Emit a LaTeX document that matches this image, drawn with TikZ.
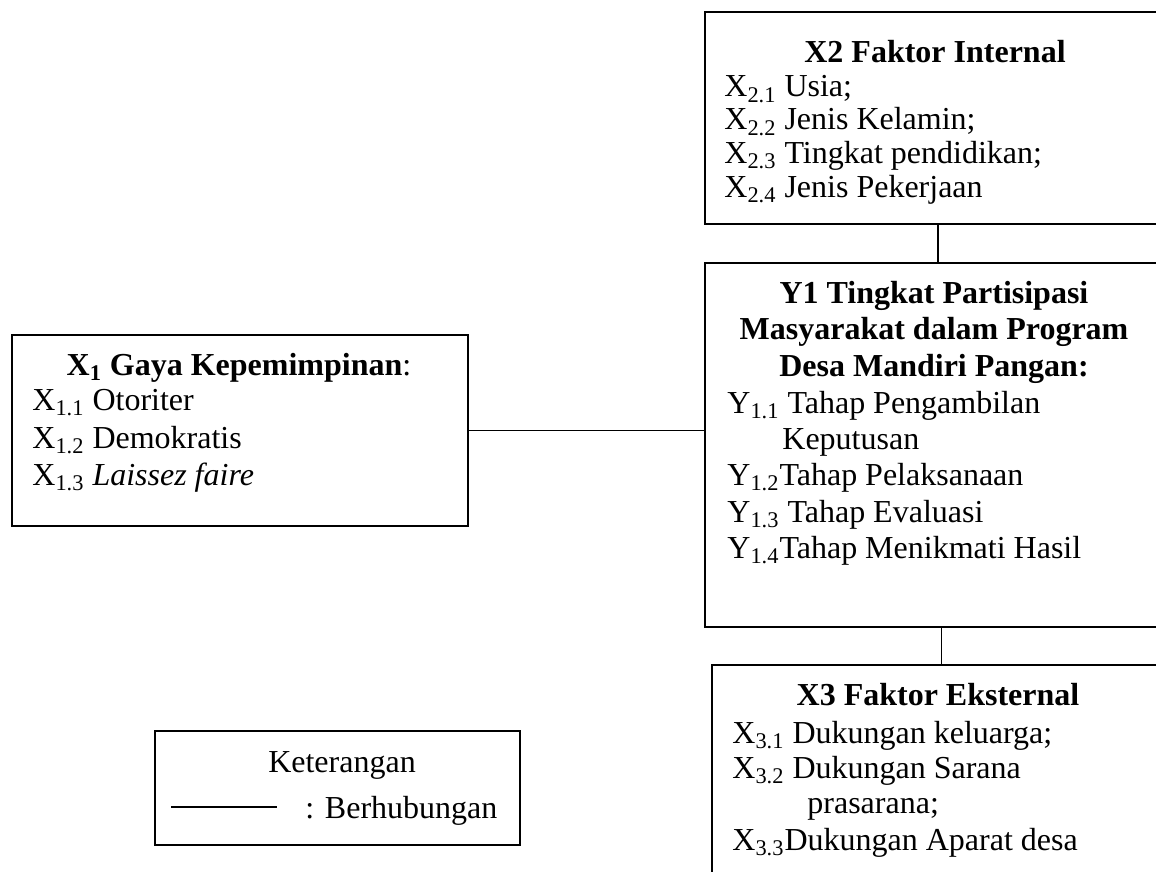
\documentclass[tikz,border=0pt]{standalone}
\usepackage{fontspec}
\setmainfont{Liberation Serif}
\usetikzlibrary{positioning,calc}
\newcommand\sbs[1]{\textsubscript{#1}}

\begin{document}
\begin{tikzpicture}[
 x=0.5pt,y=-0.5pt,
 box/.style={draw=black,line width=1pt,rectangle,inner sep=0pt,anchor=north west},
 ttl/.style={font=\fontsize{16}{17}\selectfont\bfseries,inner sep=0pt,anchor=base},
 itm/.style={font=\fontsize{16}{17}\selectfont,inner sep=0pt,anchor=base west},
 lnk/.style={draw=black,line width=0.8pt}]
\useasboundingbox (0,0) rectangle (1156,872);
\clip (0,0) rectangle (1156,872);
% boxes
\node[box,minimum width=233pt,minimum height=106pt] (x2) at (704,11) {};
\node[box,minimum width=233pt,minimum height=182pt] (y1) at (704,262) {};
\node[box,minimum width=229.5pt,minimum height=118pt] (x3) at (711,664) {};
\node[box,minimum width=228pt,minimum height=95.5pt] (x1) at (11,334) {};
\node[box,minimum width=182.5pt,minimum height=57pt] (ket) at (154,730) {};
% X2
\node[ttl] (x2t) at (935,63) {X2 Faktor Internal};
\foreach \yy/\nr/\txt [count=\i] in {97/2.1/Usia;,130/2.2/Jenis Kelamin;,
 163/2.3/Tingkat pendidikan;,197/2.4/Jenis Pekerjaan}
 \node[itm] (x2i\i) at (724,\yy) {X\sbs{\nr} \txt};
% Y1
\node[ttl] (y1ta) at (934,303) {Y1 Tingkat Partisipasi};
\node[ttl] (y1tb) at (934,339) {Masyarakat dalam Program};
\node[ttl] (y1tc) at (934,376) {Desa Mandiri Pangan:};
\node[itm] (y1i1) at (727,413) {Y\sbs{1.1} Tahap Pengambilan};
\node[itm] (y1k) at (782,449) {Keputusan};
\node[itm] (y1i2) at (727,485) {Y\sbs{1.2}Tahap Pelaksanaan};
\node[itm] (y1i3) at (727,522) {Y\sbs{1.3} Tahap Evaluasi};
\node[itm] (y1i4) at (727,558) {Y\sbs{1.4}Tahap Menikmati Hasil};
% X3
\node[ttl] (x3t) at (938,705) {X3 Faktor Eksternal};
\node[itm] (x3i1) at (732,743) {X\sbs{3.1} Dukungan keluarga;};
\node[itm] (x3i2) at (732,778) {X\sbs{3.2} Dukungan Sarana};
\node[itm] (x3p) at (807,813) {prasarana;};
\node[itm] (x3i3) at (732,850) {X\sbs{3.3}Dukungan Aparat desa};
% X1
\node[ttl] (x1t) at (239,375) {X\sbs{1} Gaya Kepemimpinan\mdseries:};
\node[itm] (x1i1) at (32,410) {X\sbs{1.1} Otoriter};
\node[itm] (x1i2) at (32,448) {X\sbs{1.2} Demokratis};
\node[itm] (x1i3) at (32,485) {X\sbs{1.3} \textit{Laissez faire}};
% keterangan
\node[itm,anchor=base] (kett) at (342,772) {Keterangan};
\node[itm] (ketb) at (305,818) {: Berhubungan};
\coordinate (la) at (171,807);
\coordinate (lb) at (277,807);
% links
\draw[lnk] (x2.south)--(y1.north);
\draw[lnk] (x3.north |- y1.south)--(x3.north);
\draw[lnk] (x1.east)--(x1.east -| y1.west);
\draw[lnk] (la)--(lb);
\end{tikzpicture}
\end{document}
